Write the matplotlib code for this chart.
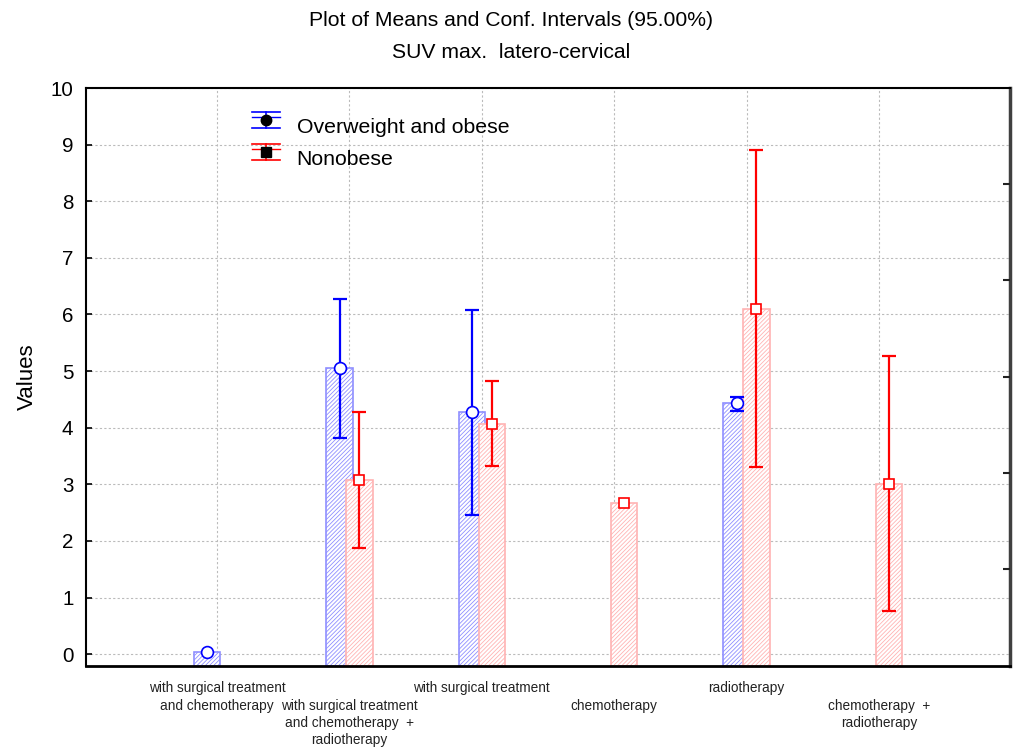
import numpy as np
import matplotlib
matplotlib.use("Agg")
import matplotlib.pyplot as plt
from matplotlib.legend_handler import HandlerBase
from matplotlib.lines import Line2D

plt.rcParams['font.family'] = ['Liberation Sans', 'DejaVu Sans']
plt.rcParams['hatch.linewidth'] = 0.6

nan = np.nan
categories = ["with surgical treatment\nand chemotherapy",
              "\nwith surgical treatment\nand chemotherapy  +\nradiotherapy",
              "with surgical treatment",
              "\nchemotherapy",
              "radiotherapy",
              "\nchemotherapy  +\nradiotherapy"]
obese_mean = [0.03, 5.05, 4.28, nan, 4.43, nan]
obese_low = [nan, 3.82, 2.45, nan, 4.30, nan]
obese_high = [nan, 6.28, 6.08, nan, 4.55, nan]
nonob_mean = [nan, 3.08, 4.07, 2.67, 6.10, 3.00]
nonob_low = [nan, 1.88, 3.32, nan, 3.31, 0.76]
nonob_high = [nan, 4.27, 4.82, nan, 8.90, 5.26]
series_names = ["Overweight and obese", "Nonobese"]
yticks = list(range(0, 11))
right_ticks = [1.5, 3.2, 4.9, 6.6, 8.3]

fig = plt.figure(figsize=(10.22, 7.51), dpi=100)
ax = fig.add_axes([86/1022, 1-666/751, 924/1022, 578/751])
ymin, ymax = -0.21, 10
ax.set_ylim(ymin, ymax)
ax.set_xlim(0.01, 6.99)

x = np.arange(1, len(categories)+1)
off = 0.075
w = 0.2

def draw(xs, mean, edge):
    mean = np.asarray(mean, float)
    ok = ~np.isnan(mean)
    ax.bar(xs[ok], mean[ok]-ymin, bottom=ymin, width=w, facecolor='white',
           edgecolor=edge, hatch='////////', linewidth=1.2, zorder=2)

draw(x-off, obese_mean, '#8f8fff')
draw(x+off, nonob_mean, '#ffb3b3')

for xs, m, lo, hi, col, mk, ms in [(x-off, obese_mean, obese_low, obese_high, '#0000ff', 'o', 8.5),
                                   (x+off, nonob_mean, nonob_low, nonob_high, '#ff0000', 's', 7.5)]:
    m = np.asarray(m, float); lo = np.asarray(lo, float); hi = np.asarray(hi, float)
    ok = ~np.isnan(lo)
    ax.errorbar(xs[ok], m[ok], yerr=[m[ok]-lo[ok], hi[ok]-m[ok]], fmt='none',
                ecolor=col, elinewidth=1.6, capsize=5, capthick=1.6, zorder=3)
    okm = ~np.isnan(m)
    ax.plot(xs[okm], m[okm], linestyle='none', marker=mk, markersize=ms,
            markerfacecolor='white', markeredgecolor=col, markeredgewidth=1.2, zorder=4)

ax.set_yticks(yticks)
ax.set_xticks(x)
ax.set_xticklabels(categories, fontsize=9.8, color='#222222', va='top', linespacing=1.3)
ax.tick_params(axis='y', direction='in', length=4, width=1.2, labelsize=14.8, pad=9)
ax.tick_params(axis='x', direction='in', length=4, width=1.2, pad=11)
ax.grid(True, color='#bbbbbb', linestyle=(0, (2, 2)), linewidth=0.8)
ax.set_axisbelow(True)
ax.set_ylabel("Values", fontsize=16, labelpad=9)

for s in ['left', 'top']:
    ax.spines[s].set_linewidth(1.5)
    ax.spines[s].set_color('black')
ax.spines['bottom'].set_linewidth(2)
ax.spines['bottom'].set_color('black')
ax.spines['right'].set_linewidth(2.5)
ax.spines['right'].set_color('#404040')

ax2 = ax.twinx()
ax2.set_ylim(ymin, ymax)
ax2.set_yticks(right_ticks)
ax2.tick_params(axis='y', direction='in', length=5, width=1.5, labelright=False, color='#222222')
for s in ax2.spines.values():
    s.set_visible(False)

fig.text(0.5, 1-21/751, "Plot of Means and Conf. Intervals (95.00%)", ha='center', va='center', fontsize=15.2)
fig.text(0.5, 1-53/751, "SUV max.  latero-cervical", ha='center', va='center', fontsize=15.2)

class EB:
    def __init__(self, color, marker):
        self.color = color
        self.marker = marker

class EBHandler(HandlerBase):
    def create_artists(self, legend, h, xd, yd, width, height, fontsize, trans):
        cx = width/2 - xd
        cy = height/2 - yd + 4.0
        top = cy + 5.8
        bot = cy - 5.8
        arts = [Line2D([-xd, width-xd], [top, top], color=h.color, lw=1.2),
                Line2D([-xd, width-xd], [bot, bot], color=h.color, lw=1.2),
                Line2D([-xd, width-xd], [cy + 2.2, cy + 2.2], color=h.color, lw=1.0),
                Line2D([cx, cx], [bot, top], color=h.color, lw=1.2),
                Line2D([cx], [cy], marker=h.marker, color='black', markersize=7.5, linestyle='none')]
        for a in arts:
            a.set_transform(trans)
        return arts

hs = [EB('#0000ff', 'o'), EB('#ff0000', 's')]
leg = ax.legend(hs, series_names, handler_map={EB: EBHandler()}, loc='upper left',
                bbox_to_anchor=((252-86)/924, 1-(118-88)/578), frameon=False,
                fontsize=15.3, borderpad=0, borderaxespad=0, handlelength=1.3,
                handletextpad=0.8, labelspacing=0.6)

fig.savefig("out.png", dpi=100)
